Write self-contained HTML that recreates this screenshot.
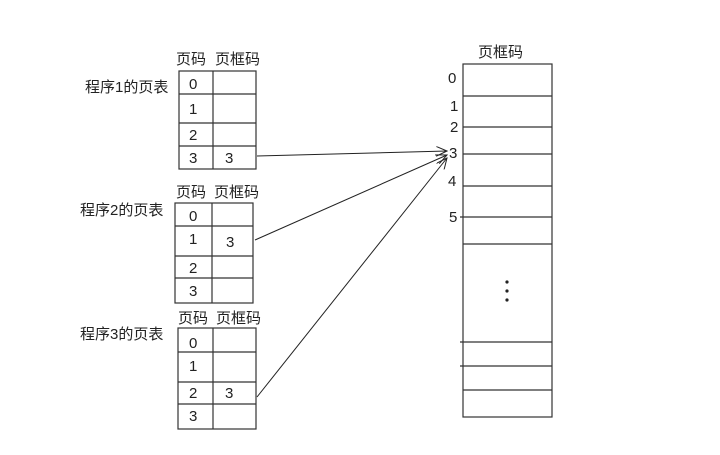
<!DOCTYPE html>
<html><head><meta charset="utf-8"><style>
body{margin:0;background:#fff}
text{font-family:"Liberation Sans","Noto Sans CJK SC",sans-serif;fill:#222}
</style></head><body>
<svg width="720" height="450" viewBox="0 0 720 450" xmlns="http://www.w3.org/2000/svg">
<defs><marker id="a" markerWidth="12" markerHeight="10" refX="11" refY="5" orient="auto" markerUnits="userSpaceOnUse"><path d="M0,0 L11,5 L0,10" fill="none" stroke="#222" stroke-width="1"/></marker></defs>
<g stroke="#333" stroke-width="1.2" fill="none">
<rect x="179" y="71" width="77" height="98"/>
<line x1="213" y1="71" x2="213" y2="169"/>
<line x1="179" y1="94" x2="256" y2="94"/><line x1="179" y1="123" x2="256" y2="123"/><line x1="179" y1="146" x2="256" y2="146"/>
<rect x="175" y="203" width="78" height="100"/>
<line x1="212" y1="203" x2="212" y2="303"/>
<line x1="175" y1="226" x2="253" y2="226"/><line x1="175" y1="256" x2="253" y2="256"/><line x1="175" y1="278" x2="253" y2="278"/>
<rect x="178" y="328" width="78" height="101"/>
<line x1="213" y1="328" x2="213" y2="429"/>
<line x1="178" y1="352" x2="256" y2="352"/><line x1="178" y1="382" x2="256" y2="382"/><line x1="178" y1="404" x2="256" y2="404"/>
<rect x="463" y="64" width="89" height="353"/>
<line x1="463" y1="96" x2="552" y2="96"/><line x1="463" y1="127" x2="552" y2="127"/>
<line x1="463" y1="154" x2="552" y2="154"/><line x1="463" y1="186" x2="552" y2="186"/>
<line x1="460" y1="217" x2="552" y2="217"/><line x1="463" y1="244" x2="552" y2="244"/>
<line x1="460" y1="342" x2="552" y2="342"/><line x1="460" y1="366" x2="552" y2="366"/><line x1="463" y1="390" x2="552" y2="390"/>
</g>
<g stroke="#222" stroke-width="1" fill="none">
<line x1="257" y1="156" x2="447" y2="151" marker-end="url(#a)"/>
<line x1="255" y1="240" x2="447" y2="155" marker-end="url(#a)"/>
<line x1="257" y1="397" x2="447" y2="158" marker-end="url(#a)"/>
</g>
<g fill="#222"><circle cx="507" cy="282" r="1.6"/><circle cx="507" cy="291" r="1.6"/><circle cx="507" cy="300" r="1.6"/></g>
<g font-size="15">
<text x="176" y="64">页码</text><text x="215" y="64">页框码</text>
<text x="85" y="92">程序1的页表</text>
<text x="189" y="89">0</text><text x="189" y="114">1</text><text x="189" y="140">2</text><text x="189" y="163">3</text><text x="225" y="163">3</text>
<text x="176" y="197">页码</text><text x="214" y="197">页框码</text>
<text x="80" y="215">程序2的页表</text>
<text x="189" y="221">0</text><text x="189" y="244">1</text><text x="226" y="247">3</text><text x="189" y="273">2</text><text x="189" y="296">3</text>
<text x="178" y="323">页码</text><text x="216" y="323">页框码</text>
<text x="80" y="339">程序3的页表</text>
<text x="189" y="348">0</text><text x="189" y="371">1</text><text x="189" y="398">2</text><text x="225" y="398">3</text><text x="189" y="421">3</text>
<text x="478" y="57">页框码</text>
<text x="448" y="83">0</text><text x="450" y="111">1</text><text x="450" y="132">2</text><text x="449" y="158">3</text><text x="448" y="186">4</text><text x="449" y="222">5</text>
</g>
</svg>
</body></html>
